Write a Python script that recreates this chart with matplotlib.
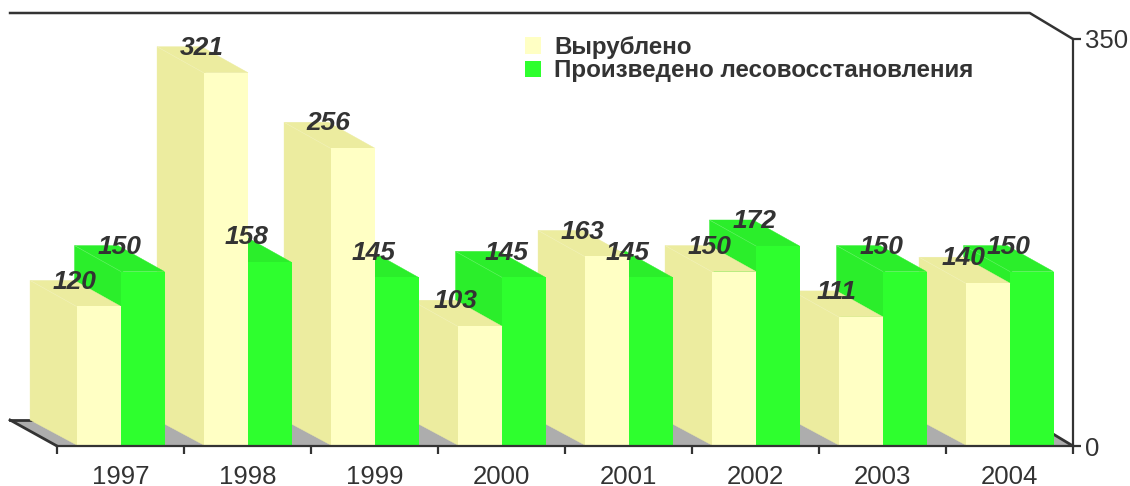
import matplotlib
matplotlib.use('Agg')
import matplotlib.pyplot as plt
from matplotlib.patches import Patch

# Данные
years = ['1997', '1998', '1999', '2000', '2001', '2002', '2003', '2004']
vyrubleno = [120, 321, 256, 103, 163, 150, 111, 140]
vosstanovleno = [150, 158, 145, 145, 145, 172, 150, 150]

plt.rcParams['font.family'] = ['Liberation Sans', 'DejaVu Sans']
text_color = '#333333'

W, H = 1130, 486
fig = plt.figure(figsize=(W / 100, H / 100), dpi=100)
ax = fig.add_axes([57 / W, (H - 446) / H, 1016 / W, 407 / H])
ax.set_xlim(0, 8)
ax.set_ylim(0, 350)

# глубина "3D" в единицах данных
dx = -46.5 / 127
dy = 26 * 350 / 407
yellow_w = 44.5 / 127
green_w = 43.5 / 127
overlap = 2 / 127  # боковая грань заходит под переднюю, чтобы не было шва


def bar3d(x, w, v, front, side):
    # боковая грань и верх, потом передняя грань
    ax.fill([x + dx, x + overlap, x + overlap, x + dx], [dy, 0, v, v + dy], facecolor=side, edgecolor=side, lw=0.3, clip_on=False, zorder=3)
    ax.fill([x + dx, x, x + w, x + w + dx], [v + dy, v, v, v + dy], facecolor=side, edgecolor=side, lw=0.3, clip_on=False, zorder=3)
    ax.plot([x + dx, x], [v + dy, v], color='white', lw=0.4, alpha=0.3, clip_on=False, zorder=3)
    ax.bar(x, v, w, align='edge', color=front, lw=0, antialiased=False, zorder=3)


# пол и задняя рамка
ax.fill([dx * 1.01, 0, 8, 8 + dx * 0.93], [dy, 0, 0, dy], color='#adadad', lw=0, clip_on=False, zorder=1)
ax.plot([dx * 1.01, 0], [dy, 0], color=text_color, lw=2, clip_on=False, zorder=2)
ax.plot([dx * 1.01, 0.2], [dy, dy], color=text_color, lw=2, clip_on=False, zorder=2)
ax.plot([8 + dx * 0.93, 8], [dy, 0], color=text_color, lw=2, clip_on=False, zorder=2)
ax.plot([dx * 1.01, 8 + dx * 0.93, 8], [350 + dy, 350 + dy, 350], color=text_color, lw=1.8, clip_on=False, zorder=2)

# рисуем справа налево, чтобы ближние столбики перекрывали дальние
for i in range(len(years) - 1, -1, -1):
    bar3d(i + 0.504, green_w, vosstanovleno[i], '#2eff2e', '#2bee2b')
    bar3d(i + 0.154, yellow_w, vyrubleno[i], '#ffffc4', '#ecec9f')

label_font = dict(ha='center', va='center', fontsize=19, fontweight='bold', fontstyle='italic',
                  color=text_color, zorder=5)
for i in range(len(years)):
    ax.text(i + 0.154 + yellow_w / 2 - 24 / 127, vyrubleno[i] + dy - 1, str(vyrubleno[i]), **label_font)
    # подпись 2000 года в оригинале немного правее
    shift = 6 / 127 if years[i] == '2000' else 0
    ax.text(i + 0.504 + yellow_w / 2 - 24 / 127 + shift, vosstanovleno[i] + dy - 1, str(vosstanovleno[i]), **label_font)

# оси
for s in ['top', 'left']:
    ax.spines[s].set_visible(False)
for s in ['bottom', 'right']:
    ax.spines[s].set_color(text_color)
    ax.spines[s].set_linewidth(1.6)
    ax.spines[s].set_zorder(6)
ax.yaxis.tick_right()
ax.set_yticks([0, 350])
ax.tick_params(axis='y', length=6, width=1.6, color=text_color, labelsize=18.5, labelcolor=text_color, pad=3)
ax.set_xticks(range(9))
ax.set_xticklabels([])
ax.tick_params(axis='x', which='major', length=6, width=1.6, color=text_color)
ax.set_xticks([i + 0.5 for i in range(8)], minor=True)
ax.set_xticklabels(years, minor=True)
ax.tick_params(axis='x', which='minor', length=0, labelsize=18.5, labelcolor=text_color, pad=13.4)

handles = [Patch(color='#ffffc4', lw=0), Patch(color='#2eff2e', lw=0)]
fig.legend(handles, ['Вырублено', 'Произведено лесовосстановления'], loc='upper left',
           bbox_to_anchor=(525 / W, 1 - 36 / H), frameon=False, borderpad=0, borderaxespad=0,
           handlelength=0.66, handleheight=0.66, handletextpad=0.54, labelspacing=0.02,
           prop={'size': 17.4, 'weight': 'bold'}, labelcolor=text_color)

fig.savefig('out.png', dpi=100)
